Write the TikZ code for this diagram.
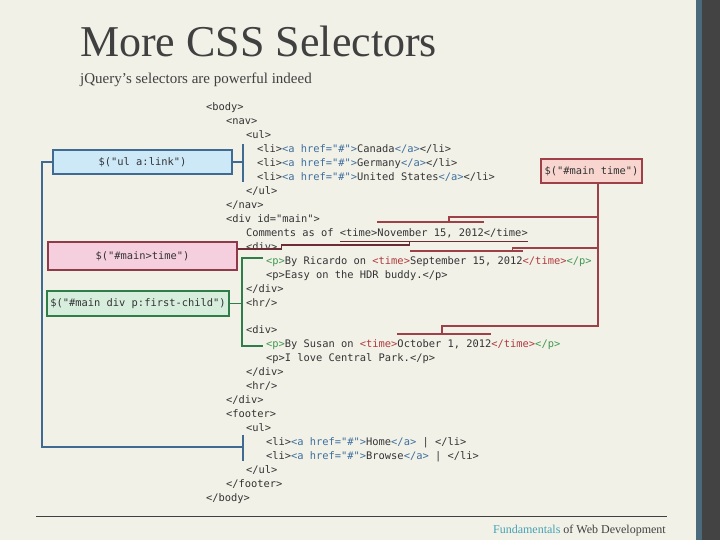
\documentclass[tikz,border=0pt]{standalone}
\usepackage{fontspec}
\setmainfont{Liberation Serif}
\setmonofont{DejaVu Sans Mono}
\usetikzlibrary{calc,positioning}
\definecolor{slideBg}{HTML}{F2F1E8}
\definecolor{slideInk}{HTML}{404040}
\definecolor{stripBlue}{HTML}{4B6B7C}
\definecolor{stripDark}{HTML}{434343}
\definecolor{footTeal}{HTML}{45A2B4}
\definecolor{codeInk}{HTML}{333333}
\definecolor{tagBlue}{HTML}{3D6E9C}
\definecolor{tagGreen}{HTML}{3F9950}
\definecolor{tagRed}{HTML}{B03A3C}
\definecolor{selBlue}{HTML}{3F6A92}
\definecolor{selBlueLight}{HTML}{CDE9F8}
\definecolor{selPink}{HTML}{8E3A48}
\definecolor{selPinkDark}{HTML}{6B2C36}
\definecolor{selPinkLight}{HTML}{F6CFDF}
\definecolor{selRed}{HTML}{9E4048}
\definecolor{selRedLight}{HTML}{F8D6CF}
\definecolor{selGreen}{HTML}{2F7D48}
\definecolor{selGreenLight}{HTML}{D7EEDD}
\newcommand{\codefont}{\ttfamily\fontsize{10.4}{12}\selectfont}
\newcommand{\atag}[1]{\textcolor{tagBlue}{#1}}
\newcommand{\ptag}[1]{\textcolor{tagGreen}{#1}}
\newcommand{\ttag}[1]{\textcolor{tagRed}{#1}}
\tikzset{
  code/.style={anchor=base west, inner sep=0pt, outer sep=0pt,
    font=\codefont, text=codeInk},
  title text/.style={anchor=base west, inner sep=0pt, text=slideInk,
    font=\fontsize{44}{50}\selectfont},
  sub text/.style={anchor=base west, inner sep=0pt, text=slideInk,
    font=\fontsize{15}{18}\selectfont},
  foot text/.style={inner sep=0pt, text=slideInk,
    font=\fontsize{12}{14}\selectfont},
  selbox/.style={draw, line width=1.3pt, inner sep=0pt, font=\codefont,
    text=codeInk},
  blue sel/.style={selbox, draw=selBlue, fill=selBlueLight,
    minimum width=179pt, minimum height=24pt},
  pink sel/.style={selbox, draw=selPink, fill=selPinkLight,
    minimum width=189pt, minimum height=28pt},
  green sel/.style={selbox, draw=selGreen, fill=selGreenLight,
    minimum width=182pt, minimum height=25pt},
  red sel/.style={selbox, draw=selRed, fill=selRedLight,
    minimum width=101pt, minimum height=24pt},
  blue link/.style={draw=selBlue, line width=1.8pt},
  blue bar/.style={draw=selBlue, line width=2.4pt},
  green link/.style={draw=selGreen, line width=1.7pt},
  pink link/.style={draw=selPinkDark, line width=1.6pt},
  red link/.style={draw=selRed, line width=1.8pt},
  red bracket/.style={draw=selRed, line width=2pt}
}
\begin{document}
\begin{tikzpicture}[x=1pt,y=-1pt]
  \fill[slideBg] (0,0) rectangle (720,540);
  \fill[stripBlue] (696,0) rectangle (702,540);
  \fill[stripDark] (702,0) rectangle (720,540);
  \useasboundingbox (0,0) rectangle (720,540);

  % title
  \node[title text] (title) at (80,57) {More CSS Selectors};
  \node[sub text] (subtitle) at (80,83.5) {jQuery's selectors are powerful indeed};

  % markup
  \node[code] (body) at (206,111) {<body>};
  \node[code] (nav) at (226,124.9) {<nav>};
  \node[code] (navul) at (246,138.9) {<ul>};
  \node[code] (li1) at (257,152.8) {<li>\atag{<a href="\#">}Canada\atag{</a>}</li>};
  \node[code] (li2) at (257,166.7) {<li>\atag{<a href="\#">}Germany\atag{</a>}</li>};
  \node[code] (li3) at (257,180.7) {<li>\atag{<a href="\#">}United States\atag{</a>}</li>};
  \node[code] (navulend) at (246,194.6) {</ul>};
  \node[code] (navend) at (226,208.5) {</nav>};
  \node[code] (main) at (226,222.4) {<div id="main">};
  \node[code] (cmt) at (246,236.4) {Comments as of\ \null};
  \node[code] (cmtopen) at (cmt.base east) {<time>};
  \node[code] (nov) at (cmtopen.base east) {November 15, 2012};
  \node[code] (cmtclose) at (nov.base east) {</time>};
  \node[code] (div1) at (246,250.3) {<div>};
  \node[code] (ric) at (266,264.2) {\ptag{<p>}By Ricardo on \ttag{<time>}};
  \node[code] (sep) at (ric.base east) {September 15, 2012};
  \node[code] (ricend) at (sep.base east) {\ttag{</time>}\ptag{</p>}};
  \node[code] (easy) at (266,278.2) {<p>Easy on the HDR buddy.</p>};
  \node[code] (div1end) at (246,292.1) {</div>};
  \node[code] (hr1) at (246,306) {<hr/>};
  \node[code] (div2) at (246,333.9) {<div>};
  \node[code] (sus) at (266,347.8) {\ptag{<p>}By Susan on \ttag{<time>}};
  \node[code] (oct) at (sus.base east) {October 1, 2012};
  \node[code] (susend) at (oct.base east) {\ttag{</time>}\ptag{</p>}};
  \node[code] (park) at (266,361.7) {<p>I love Central Park.</p>};
  \node[code] (div2end) at (246,375.7) {</div>};
  \node[code] (hr2) at (246,389.6) {<hr/>};
  \node[code] (mainend) at (226,403.5) {</div>};
  \node[code] (footer) at (226,417.5) {<footer>};
  \node[code] (footul) at (246,431.4) {<ul>};
  \node[code] (li4) at (266,445.3) {<li>\atag{<a href="\#">}Home\atag{</a>} | </li>};
  \node[code] (li5) at (266,459.3) {<li>\atag{<a href="\#">}Browse\atag{</a>} | </li>};
  \node[code] (footulend) at (246,473.2) {</ul>};
  \node[code] (footerend) at (226,487.1) {</footer>};
  \node[code] (bodyend) at (206,501) {</body>};

  % selectors
  \node[blue sel] (links) at (142.5,162) {\$("ul a:link")};
  \node[pink sel] (child) at (142.5,256) {\$("\#main>time")};
  \node[green sel] (first) at (138,303.5) {\$("\#main div p:first-child")};
  \node[red sel] (desc) at (591.5,171) {\$("\#main time")};

  % ul a:link
  \coordinate (navtop) at (243,144);
  \coordinate (navbot) at (243,182);
  \coordinate (foottop) at (243,435);
  \coordinate (footbot) at (243,461);
  \draw[blue bar] (navtop) -- (navbot);
  \draw[blue bar] (foottop) -- (footbot);
  \draw[blue link] (links.east) -- (links.east -| navtop);
  \draw[blue link] (links.west) -- ++(-10,0) |- ($(foottop)!0.45!(footbot)$);

  % #main>time
  \coordinate (u1) at ([yshift=-5pt]cmtopen.base west);
  \coordinate (u2) at ([yshift=-5pt]cmtclose.base east);
  \draw[pink link] (u1) -- (u2);
  \draw[pink link] ([yshift=7pt]child.east) -- ++(44,0) -- ++(0,-4) -| ($(u1)!0.37!(u2)$);

  % #main div p:first-child
  \coordinate (grail) at (242,0);
  \coordinate (gtop) at (263,258);
  \coordinate (gbot) at (263,346);
  \draw[green link] (first.east) -- (first.east -| grail);
  \draw[green link] (gtop) -| (grail |- gbot) -- (gbot);

  % #main time
  \coordinate (spine) at ([xshift=6.5pt]desc.south);
  \coordinate (b1l) at ([yshift=6pt]nov.north west);
  \coordinate (b1r) at ([yshift=6pt]nov.north east);
  \coordinate (b2l) at ([yshift=5pt]sep.north west);
  \coordinate (b2r) at ([yshift=5pt]sep.north east);
  \coordinate (b3l) at ([yshift=6pt]oct.north west);
  \coordinate (b3r) at ([yshift=6pt]oct.north east);
  \draw[red bracket] (b1l) -- (b1r);
  \draw[red bracket] (b2l) -- (b2r);
  \draw[red bracket] (b3l) -- (b3r);
  \draw[red link] ($(b3l)!0.47!(b3r)$) -- ++(0,-8) coordinate (k3) -| (spine);
  \draw[red link] ($(b1l)!0.67!(b1r)$) -- ++(0,-5.5) coordinate (k1) -- (k1 -| spine);
  \draw[red link] ($(b2l)!0.91!(b2r)$) -- ++(0,-3.5) coordinate (k2) -- (k2 -| spine);

  % footer
  \draw[slideInk, line width=0.9pt] (36,516.5) -- (667,516.5);
  \node[foot text, anchor=base east] (foot) at (666,533)
    {\textcolor{footTeal}{Fundamentals} of Web Development};
\end{tikzpicture}
\end{document}
